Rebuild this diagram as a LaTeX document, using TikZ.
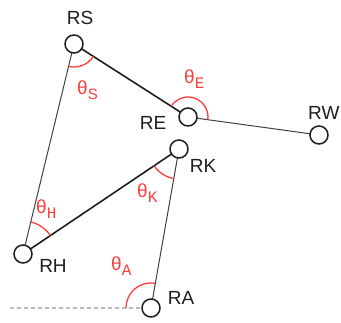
\documentclass[tikz,border=0pt]{standalone}
\usepackage{fontspec}
\setmainfont{Liberation Sans}
\newfontfamily\submono{Liberation Mono}
\definecolor{jointred}{RGB}{255,60,60}
\definecolor{ink}{RGB}{30,30,30}
\newcommand{\angsub}[1]{\lower5pt\hbox{\fontsize{15}{17}\selectfont #1}}
\newcommand{\angsubmono}[1]{\lower5pt\hbox{\submono\fontsize{16}{18}\selectfont #1}}
\begin{document}
\begin{tikzpicture}[x=1pt,y=1pt,
  joint/.style={circle,draw=ink,line width=1.5pt,fill=white,minimum size=18pt,inner sep=0pt},
  limb/.style={draw=ink,line width=1.6pt},
  bone/.style={draw=ink!85,line width=1pt},
  tag/.style={text=ink,font=\fontsize{19}{21}\selectfont,inner sep=0pt},
  angle/.style={draw=jointred,line width=1.3pt},
  anglabel/.style={text=jointred,font=\fontsize{19}{21}\selectfont,inner sep=0pt,anchor=base west},
  horizon/.style={draw=gray!55,line width=1.2pt,dash pattern=on 4pt off 3pt}]
\useasboundingbox (0,0) rectangle (341,323);

% joint positions
\coordinate (pS) at (74,279);
\coordinate (pE) at (188,206);
\coordinate (pW) at (319,188);
\coordinate (pK) at (179,174);
\coordinate (pH) at (23,69);
\coordinate (pA) at (151,15);
\coordinate (ground) at (10,15);

% segments
\draw[horizon] (ground) -- (pA);
\draw[limb] (pS) -- (pE);
\draw[bone] (pE) -- (pW);
\draw[bone] (pS) -- (pH);
\draw[limb] (pH) -- (pK);
\draw[bone] (pK) -- (pA);

% joint angles
\draw[angle] ([shift={(-103.6:23pt)}]pS) arc[start angle=-103.6,end angle=-32.6,radius=23pt];
\draw[angle] ([shift={(-7.8:20pt)}]pE) arc[start angle=-7.8,end angle=147.4,radius=20pt];
\draw[angle] ([shift={(213.9:30pt)}]pK) arc[start angle=213.9,end angle=260,radius=30pt];
\draw[angle] ([shift={(33.9:33pt)}]pH) arc[start angle=33.9,end angle=76.4,radius=33pt];
\draw[angle] ([shift={(80:25pt)}]pA) arc[start angle=80,end angle=180,radius=25pt];

% joints
\node[joint] (RS) at (pS) {};
\node[joint] (RE) at (pE) {};
\node[joint] (RW) at (pW) {};
\node[joint] (RK) at (pK) {};
\node[joint] (RH) at (pH) {};
\node[joint] (RA) at (pA) {};

% joint names
\node[tag] (tS) at (80,305) {RS};
\node[tag] (tE) at (153,200) {RE};
\node[tag,anchor=west] (tW) at (308,210) {RW};
\node[tag] (tK) at (203,157) {RK};
\node[tag] (tH) at (53,57) {RH};
\node[tag] (tA) at (181,25) {RA};

% angle names
\node[anglabel] (aS) at (77,228) {θ\angsub{S}};
\node[anglabel] (aE) at (184,239) {θ\angsubmono{E}};
\node[anglabel] (aK) at (137,125) {θ\angsubmono{K}};
\node[anglabel] (aH) at (36,109) {θ\angsubmono{H}};
\node[anglabel] (aA) at (111,52) {θ\angsubmono{A}};
\end{tikzpicture}
\end{document}
